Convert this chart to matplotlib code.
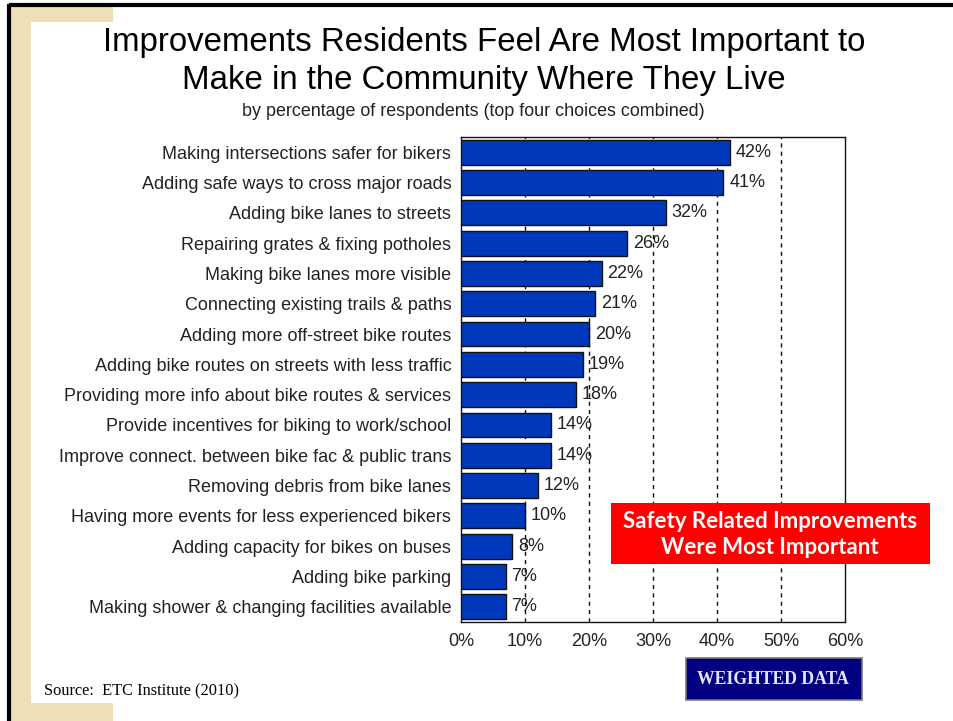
import matplotlib
matplotlib.use("Agg")
import matplotlib.pyplot as plt
from matplotlib.patches import Rectangle
from matplotlib.ticker import FuncFormatter

plt.rcParams["font.family"] = ["Liberation Sans", "DejaVu Sans"]

categories = [
    "Making intersections safer for bikers",
    "Adding safe ways to cross major roads",
    "Adding bike lanes to streets",
    "Repairing grates & fixing potholes",
    "Making bike lanes more visible",
    "Connecting existing trails & paths",
    "Adding more off-street bike routes",
    "Adding bike routes on streets with less traffic",
    "Providing more info about bike routes & services",
    "Provide incentives for biking to work/school",
    "Improve connect. between bike fac & public trans",
    "Removing debris from bike lanes",
    "Having more events for less experienced bikers",
    "Adding capacity for bikes on buses",
    "Adding bike parking",
    "Making shower & changing facilities available",
]
values = [42, 41, 32, 26, 22, 21, 20, 19, 18, 14, 14, 12, 10, 8, 7, 7]
x_ticks = [0, 10, 20, 30, 40, 50, 60]

W, H = 954, 721
fig = plt.figure(figsize=(W / 100, H / 100), dpi=100)
fig.patch.set_facecolor("white")

def px(x0, y0, w, h):
    """Pixel box (top-left origin) -> figure fraction rect."""
    return (x0 / W, 1 - (y0 + h) / H, w / W, h / H)

# slide background decoration
bg = fig.add_axes([0, 0, 1, 1], zorder=-10)
bg.set_xlim(0, W)
bg.set_ylim(H, 0)
bg.axis("off")
beige = "#EEDFB8"
bg.add_patch(Rectangle((10, 6), 103, 16, color=beige, lw=0))
bg.add_patch(Rectangle((10, 6), 21, H, color=beige, lw=0))
bg.add_patch(Rectangle((10, 703), 103, 20, color=beige, lw=0))
bg.plot([9, W], [5, 5], color="black", lw=3, solid_capstyle="butt")
bg.plot([9, 9], [4, H], color="black", lw=3, solid_capstyle="butt")

# main bar chart
ax = fig.add_axes(px(461, 137, 384, 485))
ypos = list(range(len(categories)))
ax.barh(ypos, values, height=0.82, color="#0038BC", edgecolor="#111111",
        linewidth=1.0, zorder=3)
ax.set_xlim(0, 60)
ax.set_ylim(len(categories) - 0.5, -0.5)
ax.set_xticks(x_ticks)
ax.xaxis.set_major_formatter(FuncFormatter(lambda v, p: f"{v:.0f}%"))
ax.set_yticks(ypos)
ax.set_yticklabels(categories)
ax.tick_params(axis="both", length=0, labelsize=13, colors="#222222")
ax.tick_params(axis="x", pad=8)
ax.tick_params(axis="y", pad=7)
for sp in ax.spines.values():
    sp.set_color("#111111")
    sp.set_linewidth(1.0)
for t in x_ticks[1:-1]:
    ax.axvline(t, color="#111111", lw=1.0, ls=(0, (3, 3)), zorder=2)
for y, v in zip(ypos, values):
    ax.text(v + 0.9, y, f"{v}%", va="center", ha="left", fontsize=13,
            color="#222222", zorder=1.5)

# titles
fig.text(484 / W, 1 - 43 / H, "Improvements Residents Feel Are Most Important to",
         ha="center", va="center", fontsize=23.8, color="black")
fig.text(484 / W, 1 - 80 / H, "Make in the Community Where They Live",
         ha="center", va="center", fontsize=23.8, color="black")
fig.text(473 / W, 1 - 112 / H, "by percentage of respondents (top four choices combined)",
         ha="center", va="center", fontsize=12.9, color="#222222")

# callout box
fig.patches.append(Rectangle((611 / W, 1 - 564 / H), 319 / W, 61 / H,
                             transform=fig.transFigure, color="#FF0000", lw=0))
fig.text(770 / W, 1 - 521 / H, "Safety Related Improvements", ha="center",
         va="center", fontsize=16, color="white", fontweight="bold", family="Lato")
fig.text(770 / W, 1 - 547 / H, "Were Most Important", ha="center",
         va="center", fontsize=16, color="white", fontweight="bold", family="Lato")

# weighted data badge
fig.patches.append(Rectangle((686 / W, 1 - 700 / H), 176 / W, 42 / H,
                             transform=fig.transFigure, facecolor="#000080",
                             edgecolor="#777777", lw=1.2))
fig.text(773 / W, 1 - 680 / H, "WEIGHTED DATA", ha="center", va="center",
         fontsize=12.7, color="#E4E4FF", fontweight="bold", family="Liberation Serif")

fig.text(44 / W, 1 - 691 / H, "Source:  ETC Institute (2010)", ha="left", va="center",
         fontsize=11.8, color="black", family="Liberation Serif")

fig.savefig("out.png", dpi=100)
